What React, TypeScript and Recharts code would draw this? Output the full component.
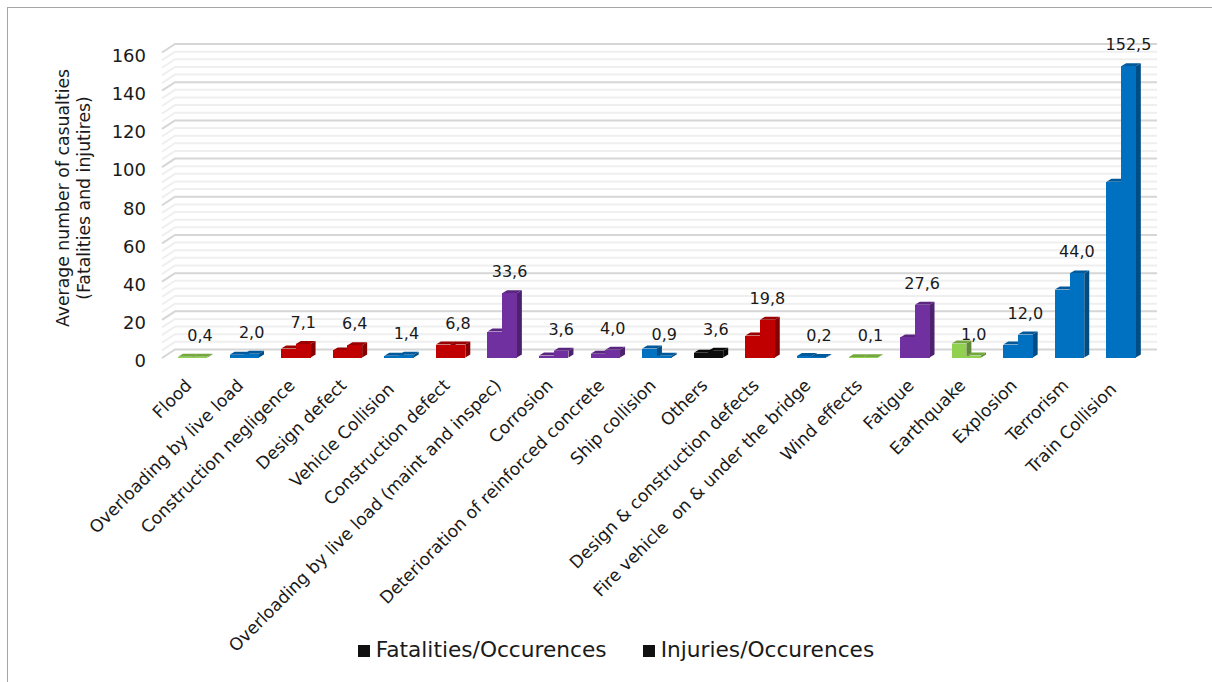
import React from "react";
import { BarChart, Bar, XAxis, YAxis, CartesianGrid, LabelList, Legend } from "recharts";

const categories = [
  "Flood",
  "Overloading by live load",
  "Construction negligence",
  "Design defect",
  "Vehicle Collision ",
  "Construction defect",
  "Overloading by live load (maint and inspec)",
  "Corrosion",
  "Deterioration of reinforced concrete",
  "Ship collision",
  "Others",
  "Design & construction defects",
  "Fire vehicle  on & under the bridge",
  "Wind effects",
  "Fatigue",
  "Earthquake",
  "Explosion",
  "Terrorism",
  "Train Collision ",
];

const fatalities = [0.4, 1.5, 4.7, 3.7, 0.9, 6.8, 13.6, 1.0, 2.0, 4.7, 2.5, 11.5, 0.8, 0.1, 10.5, 7.3, 6.8, 35.6, 92];
const injuries = [0.4, 2.0, 7.1, 6.4, 1.4, 6.8, 33.6, 3.6, 4.0, 0.9, 3.6, 19.8, 0.2, 0.1, 27.6, 1.0, 12.0, 44.0, 152.5];

const causeGroups = [
  "green", "blue", "red", "red", "blue", "red", "purple", "purple", "purple", "blue",
  "black", "red", "blue", "green", "purple", "green", "blue", "blue", "blue",
];

const majorTicks = [0, 20, 40, 60, 80, 100, 120, 140, 160];
const minorTicks = [
  4, 8, 12, 16, 24, 28, 32, 36, 44, 48, 52, 56, 64, 68, 72, 76, 84, 88, 92, 96,
  104, 108, 112, 116, 124, 128, 132, 136, 144, 148, 152, 156,
];

const palette: Record<string, { front: string; top: string; side: string }> = {
  green: { front: "#92d050", top: "#74a83f", side: "#5f8a33" },
  blue: { front: "#0070c0", top: "#00599a", side: "#004d85" },
  red: { front: "#c00000", top: "#9a0000", side: "#850000" },
  purple: { front: "#7030a0", top: "#5a2680", side: "#4d216e" },
  black: { front: "#0d0d0d", top: "#0a0a0a", side: "#080808" },
};

const chartData = categories.map((name, i) => ({
  name,
  fatalities: fatalities[i],
  injuries: injuries[i],
}));

const FONT = "'DejaVu Sans', Verdana, sans-serif";
const DX = 5;
const DY = 3;

function Bar3D(props: any) {
  const { x, y, width, height, index } = props;
  const c = palette[causeGroups[index]];
  return (
    <g>
      <polygon
        points={`${x + width},${y} ${x + width + DX},${y - DY} ${x + width + DX},${y + height - DY} ${x + width},${y + height}`}
        fill={c.side}
      />
      <polygon
        points={`${x},${y} ${x + DX},${y - DY} ${x + width + DX},${y - DY} ${x + width},${y}`}
        fill={c.top}
      />
      <rect x={x} y={y} width={width} height={height} fill={c.front} shapeRendering="crispEdges" />
    </g>
  );
}

// gridlines sit on the back wall, with a short diagonal going to the front
function wallLine(color: string) {
  return (p: any) => (
    <g key={p.key}>
      <polyline
        points={`${p.x1 - 5},${p.y1 + 0.5} ${p.x1 + 8},${p.y1 - 8} ${p.x2 + 10},${p.y1 - 8}`}
        fill="none"
        stroke={color}
        strokeWidth={2}
      />
    </g>
  );
}

function SlantedTick({ x, y, payload }: any) {
  return (
    <text
      x={x}
      y={y}
      transform={`rotate(-45 ${x} ${y})`}
      textAnchor="end"
      fontSize={17.2}
      fontFamily={FONT}
      fill="#1a1a1a"
      style={{ whiteSpace: "pre" }}
    >
      {payload.value}
    </text>
  );
}

function AxisTitle() {
  const cy = 198;
  return (
    <g fontFamily={FONT} fontSize={17.3} fill="#1a1a1a" textAnchor="middle">
      <text transform={`translate(69 ${cy}) rotate(-90)`}>Average number of casualties</text>
      <text transform={`translate(90 ${cy}) rotate(-90)`}>(Fatalities and injutires)</text>
    </g>
  );
}

export default function App() {
  return (
    <div style={{ position: "absolute", left: 0, top: 0, width: 1212, height: 682, overflow: "hidden", background: "#fff" }}>
      <div style={{ position: "absolute", left: 7, top: 7, width: 1300, height: 800, border: "1px solid #a6a6a6" }} />
      <div style={{ position: "absolute", left: 0, top: 0 }}>
        <BarChart
          width={1212}
          height={682}
          data={chartData}
          margin={{ top: 52, right: 65, left: 57, bottom: 0 }}
          barSize={14.7}
          barGap={0}
        >
          <CartesianGrid vertical={false} horizontalValues={minorTicks} horizontal={wallLine("#efefef")} />
          <CartesianGrid vertical={false} horizontalValues={majorTicks} horizontal={wallLine("#d6d6d6")} />
          <XAxis
            dataKey="name"
            interval={0}
            height={284.5}
            axisLine={false}
            tickLine={false}
            tick={<SlantedTick />}
            tickMargin={23}
          />
          <YAxis
            width={110}
            domain={[0, 160]}
            ticks={majorTicks}
            interval={0}
            axisLine={false}
            tickLine={false}
            tickMargin={15}
            tick={{ fontSize: 18, fontFamily: FONT, fill: "#1a1a1a", dy: 3.5 }}
            label={{ content: <AxisTitle /> }}
          />
          <Legend
            verticalAlign="bottom"
            iconType="square"
            iconSize={12}
            height={40}
            wrapperStyle={{ bottom: 7, left: 76 }}
            formatter={(value: string, entry: any, index: number) => (
              <span
                style={{
                  color: "#1a1a1a",
                  fontFamily: FONT,
                  fontSize: 21.7,
                  marginLeft: 2,
                  marginRight: index === 0 ? 26 : 0,
                  position: "relative",
                  top: 2,
                }}
              >
                {value}
              </span>
            )}
          />
          <Bar dataKey="fatalities" name="Fatalities/Occurences" fill="#111111" shape={Bar3D} isAnimationActive={false} />
          <Bar dataKey="injuries" name="Injuries/Occurences" fill="#111111" shape={Bar3D} isAnimationActive={false}>
            <LabelList
              dataKey="injuries"
              position="top"
              offset={16}
              formatter={(v: number) => v.toFixed(1).replace(".", ",")}
              style={{ fontSize: 16, fontFamily: FONT, fill: "#1a1a1a" }}
            />
          </Bar>
        </BarChart>
      </div>
    </div>
  );
}
